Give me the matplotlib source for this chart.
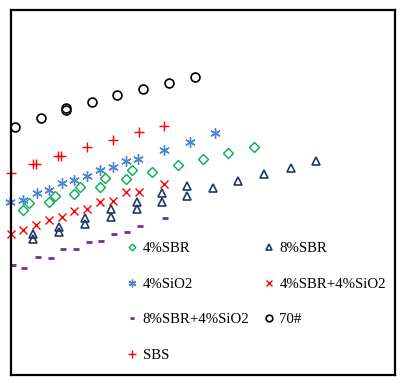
import matplotlib
matplotlib.use("Agg")
import matplotlib.pyplot as plt

plt.rcParams['font.family'] = ['Liberation Serif', 'DejaVu Serif']

# values (arbitrary units, no axis labels in the source)
x_70 = [0.31, 2.34, 4.32, 4.32, 6.35, 8.30, 10.34, 12.37, 14.40]
y_70 = [68.0, 70.5, 72.6, 73.1, 74.7, 76.6, 78.3, 79.9, 81.6]

x_sbs = [0, 1.74, 1.93, 3.70, 3.91, 5.96, 7.99, 10.02, 11.95]
y_sbs = [55.3, 57.7, 57.7, 60.1, 60.1, 62.4, 64.4, 66.6, 68.3]

x_sio2 = [-0.08, 0.91, 2.01, 2.97, 4.01, 4.92, 5.96, 6.95, 7.99, 8.98, 9.95, 11.95, 13.98, 15.94]
y_sio2 = [47.5, 47.9, 49.9, 50.7, 52.5, 53.4, 54.5, 56.2, 56.9, 58.7, 59.1, 61.6, 63.8, 66.2]

x_sbr4 = [0.96, 1.43, 2.99, 3.44, 4.95, 5.39, 6.95, 7.37, 8.98, 9.43, 10.99, 13.02, 15.02, 16.98, 19.01]
y_sbr4 = [45.2, 47.0, 47.5, 49.1, 49.6, 51.4, 51.4, 53.9, 53.6, 56.2, 55.7, 57.5, 59.1, 60.9, 62.4]

x_sbr8 = [1.70, 1.70, 3.77, 3.77, 5.76, 5.76, 7.79, 7.79, 9.82, 9.82, 11.77, 11.77,
          13.77, 13.77, 15.80, 17.76, 19.79, 21.85, 23.80]
y_sbr8 = [38.5, 37.3, 40.6, 39.3, 42.9, 41.3, 45.4, 43.4, 47.5, 45.4, 49.8, 47.3,
          51.9, 49.1, 51.3, 53.2, 55.0, 56.8, 58.6]

x_sbr4_sio2 = [0, 0.96, 1.95, 2.97, 4.00, 4.95, 5.96, 6.95, 7.99, 8.98, 10.02, 11.95]
y_sbr4_sio2 = [38.5, 39.7, 41.1, 42.5, 43.2, 44.9, 45.4, 47.5, 47.7, 50.2, 50.2, 52.3]

x_sbr8_sio2 = [0.13, 1.04, 2.09, 3.10, 4.09, 5.05, 6.07, 7.03, 8.07, 9.06, 10.10, 12.05]
y_sbr8_sio2 = [30.1, 29.4, 32.2, 32.0, 34.4, 34.4, 36.5, 36.8, 38.6, 39.3, 40.8, 43.1]

fig = plt.figure(figsize=(4.05, 3.84), dpi=100)
ax = fig.add_axes([11 / 405, 9 / 384, 384 / 405, 365 / 384])

kw = dict(linestyle='none', clip_on=False)
h_sbr4, = ax.plot(x_sbr4, y_sbr4, marker='D', ms=4.6, mfc='none', mec='#00B050', mew=1.0,
                  label='4%SBR', **kw)
h_sio2, = ax.plot(x_sio2, y_sio2, marker=(6, 2, 0), ms=7.5, color='#4A86C8', mew=1.0,
                  label='4%SiO2', **kw)
h_sbr8sio2, = ax.plot(x_sbr8_sio2, y_sbr8_sio2, marker='_', ms=4.5, color='#7030A0', mew=2.0,
                      label='8%SBR+4%SiO2', **kw)
h_sbs, = ax.plot(x_sbs, y_sbs, marker='+', ms=7, color='#FF0000', mew=1.0,
                 label='SBS', **kw)
h_sbr8, = ax.plot(x_sbr8, y_sbr8, marker='^', ms=6.2, mfc='none', mec='#1F3864', mew=1.2,
                  label='8%SBR', **kw)
h_sbr4sio2, = ax.plot(x_sbr4_sio2, y_sbr4_sio2, marker='x', ms=5.2, color='#FF0000', mew=1.0,
                      label='4%SBR+4%SiO2', **kw)
h_70, = ax.plot(x_70, y_70, marker='o', ms=6.4, mfc='none', mec='black', mew=1.2,
                label='70#', **kw)

ax.set_xlim(0, 30)
ax.set_ylim(0, 100)
ax.set_xticks([])
ax.set_yticks([])
for s in ax.spines.values():
    s.set_linewidth(1.6)

ax.legend(handles=[h_sbr4, h_sio2, h_sbr8sio2, h_sbs, h_sbr8, h_sbr4sio2, h_70],
          ncol=2, frameon=False, fontsize=10.7, markerscale=0.75,
          loc='upper left', bbox_to_anchor=(0.300, 0.365), borderaxespad=0, borderpad=0,
          handlelength=0.8, handletextpad=0.3, columnspacing=0.93, labelspacing=1.49)

fig.savefig('out.png', dpi=100)
